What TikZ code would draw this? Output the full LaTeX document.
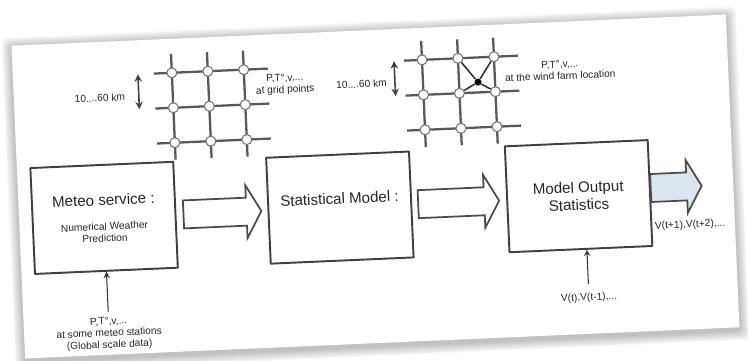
\documentclass[tikz,border=0pt]{standalone}
\usepackage{fontspec}
\setmainfont{Liberation Sans}
\usetikzlibrary{calc}
\definecolor{outblue}{RGB}{219,229,239}
\tikzset{
  box/.style={draw=black!75, line width=1.1pt, fill=white, minimum width=2.86cm, minimum height=2.12cm, inner sep=0pt},
  fat/.style={draw=black!70, line width=1pt, fill=white, line join=miter},
  gridline/.style={draw=black!65, line width=1.3pt},
  gp/.style={circle, draw=black!55, fill=white, line width=0.6pt, minimum size=0.2cm, inner sep=0pt},
  big/.style={font=\fontsize{8.6}{9.9}\selectfont, text=black!85, inner sep=1pt, align=center},
  small/.style={font=\fontsize{5.8}{6.7}\selectfont, text=black!85, inner sep=1pt, align=center},
}
% hollow block arrow: start, length, style
\newcommand{\fatarrow}[3]{\draw[#3] (#1) ++(0,14) -- ++({#2-15},0) -- ++(0,12.5) -- ++(15,-26.5) -- ++(-15,-26.5) -- ++(0,12.5) -- ++({15-#2},0) -- cycle;}
\begin{document}
\begin{tikzpicture}[x=0.02cm, y=0.02cm, line join=round, >=stealth]
 \useasboundingbox (-376,-174) rectangle (372,187);
 \begin{scope}[rotate=2.5, transform shape]
 % sheet with soft shadow
 \foreach \k in {1,...,10} \fill[black, opacity=0.028, rounded corners=3] (-358-\k,-159-\k) rectangle (357+\k,155+\k);
 \fill[white] (-358,-156) rectangle (357,157);
 \def\gxa{-163} \def\gya{88}
 \def\gxb{87.5} \def\gyb{90}
 \foreach \i in {-1,0,1} {
   \draw[gridline] (\gxa-54,\gya+\i*35) -- (\gxa+60,\gya+\i*35);
   \draw[gridline] (\gxa+\i*36,\gya-52) -- (\gxa+\i*36,\gya+54);
   \draw[gridline] (\gxb-54,\gyb+\i*35) -- (\gxb+60,\gyb+\i*35);
   \draw[gridline] (\gxb+\i*36,\gyb-52) -- (\gxb+\i*36,\gyb+54);
 }
 \foreach \r in {1,2,3} \foreach \c in {1,2,3} {
   \node[gp] (a-\r-\c) at (\gxa+\c*36-72,\gya-\r*35+70) {};
   \node[gp] (b-\r-\c) at (\gxb+\c*36-72,\gyb-\r*35+70) {};
 }
 \node[circle, fill=black, inner sep=0pt, minimum size=0.14cm] (farm) at (106.5,100.3) {};
 \draw[line width=0.9pt, black!80] (b-1-2) -- (farm) -- (b-2-2) (b-1-3) -- (farm) -- (b-2-3);
 \draw[<->, line width=0.9pt, black!75] ($(a-2-1)+(-34,0)$) -- ($(a-1-1)+(-34,0)$);
 \draw[<->, line width=0.9pt, black!75] ($(b-2-1)+(-28,0)$) -- ($(b-1-1)+(-28,0)$);
 \node[small] (km-a) at (-272,101) {10....60 km};
 \node[small] (km-b) at (-10,103.5) {10....60 km};
 \node[small] (grid-t) at (-86.5,106.3) {P,T°,v,...\\at grid points};
 \node[small] (farm-t) at (189,108.8) {P,T°,v,...\\at the wind farm location};
 % the three stages
 \node[box] (meteo) at (-273,-19) {};
 \node[box] (stat) at (-37,-19) {};
 \node[box] (mos) at (202,-18) {};
 \node[big] (meteo-t) at (-273,-1) {Meteo service :};
 \node[small] (meteo-s) at (-273,-33.5) {Numerical Weather\\Prediction};
 \node[big] (stat-t) at (-37,-10) {Statistical Model :};
 \node[big] (mos-t) at (202,-18) {Model Output\\Statistics};
 \fatarrow{$(meteo.east)+(7,0)$}{78}{fat}
 \fatarrow{$(stat.east)+(6,0)$}{81}{fat}
 \fatarrow{$(mos.east)+(0,5)$}{51}{fat, fill=outblue}
 \node[small, anchor=west] (mos-out) at (275,-51.6) {V(t+1),V(t+2),...};
 \node[small] (meteo-in) at (-273,-135) {P,T°,v,...\\at some meteo stations\\(Global scale data)};
 \node[small] (mos-in) at (208,-120) {V(t),V(t-1),...};
 \draw[->, line width=0.6pt, black!80, shorten <=2pt] (meteo-in.north) -- (meteo.south);
 \draw[->, line width=0.6pt, black!80, shorten <=4pt] (mos-in.north) -- (mos-in.north |- mos.south);
 \end{scope}
\end{tikzpicture}
\end{document}
